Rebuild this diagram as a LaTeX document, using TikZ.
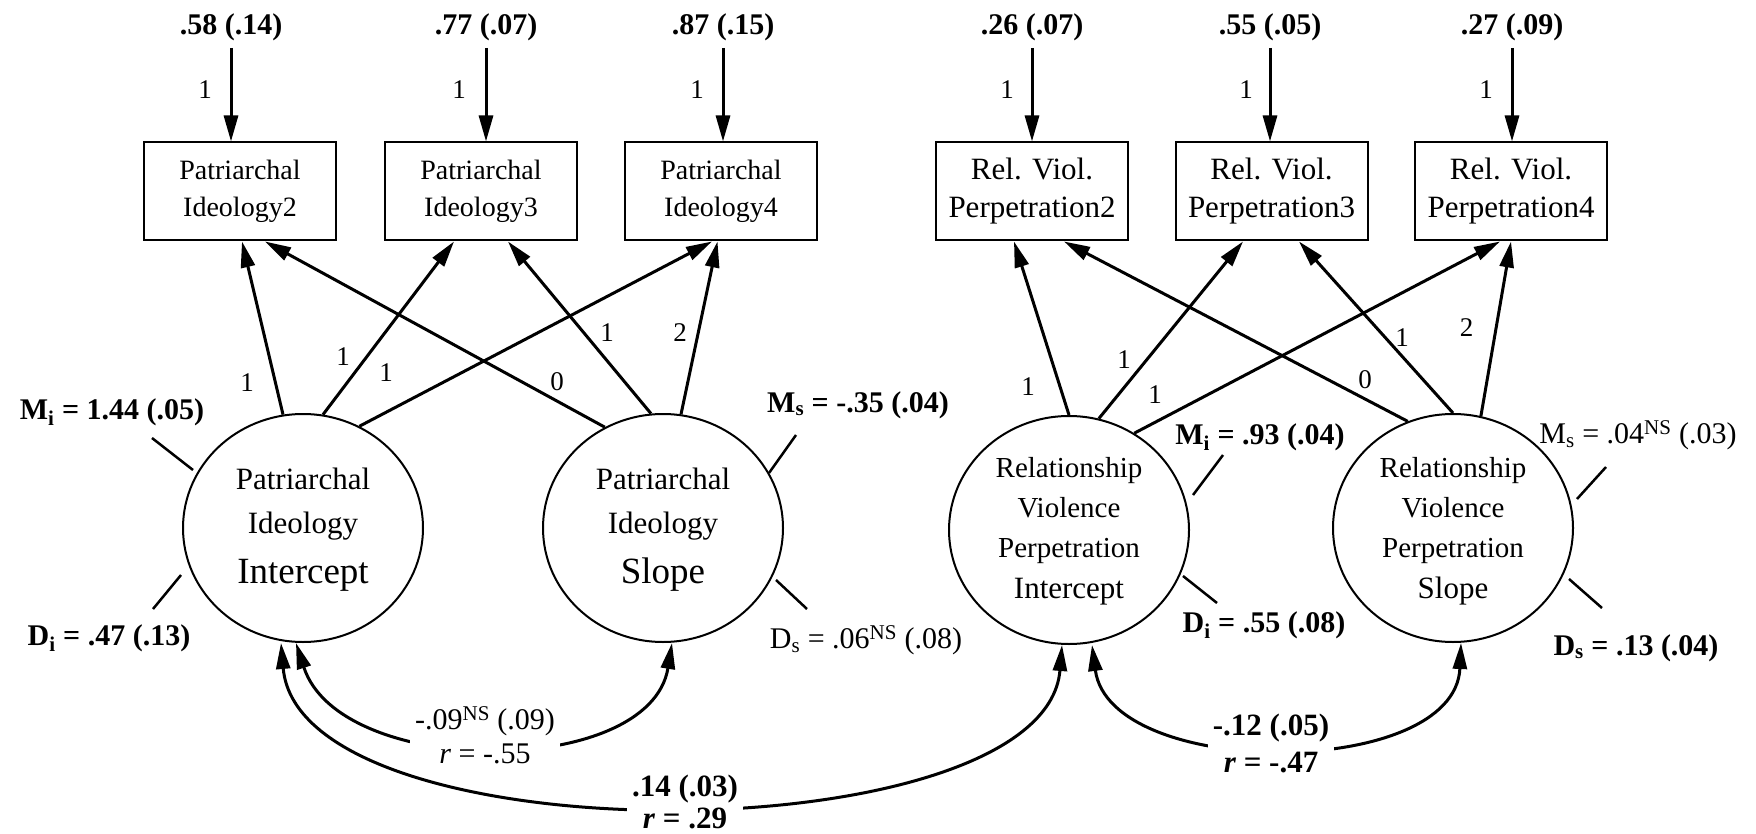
\documentclass[tikz,border=0pt]{standalone}
\usepackage{fontspec}
\setmainfont{Liberation Serif}
\usetikzlibrary{arrows.meta,shapes.geometric}
\newcommand{\fsz}[2]{\fontsize{#1}{#2}\selectfont}
\begin{document}
\begin{tikzpicture}[x=1pt,y=-1pt,
  >={Triangle[length=26pt,width=14pt]},
  every node/.style={inner sep=0pt},
  obs/.style={draw,line width=2pt,minimum width=192pt,minimum height=98pt,align=center,font=\fsz{28}{37}},
  obsr/.style={obs,font=\fsz{31}{38}},
  lat/.style={draw,ellipse,line width=2pt,minimum width=240pt,minimum height=228pt},
  latsmall/.style={anchor=base,font=\fsz{31}{31}},
  latbig/.style={anchor=base,font=\fsz{37}{37}},
  latmid/.style={anchor=base,font=\fsz{29}{29}},
  load/.style={line width=3pt,->},
  cov/.style={line width=3pt,<->},
  tick/.style={line width=2.5pt},
  est/.style={font=\bfseries\fsz{30}{30}},
  estr/.style={font=\fsz{30}{30}},
  wt/.style={font=\fsz{27}{27}},
  covlab/.style={fill=white,inner xsep=5pt,inner ysep=2pt,align=center},
]
\useasboundingbox (0,0) rectangle (1756,834);

% residual variances of the observed measures
\node[est,anchor=base] (t1) at (231,35) {.58 (.14)};
\node[est,anchor=base] (t2) at (486,35) {.77 (.07)};
\node[est,anchor=base] (t3) at (723,35) {.87 (.15)};
\node[est,anchor=base] (t4) at (1032,35) {.26 (.07)};
\node[est,anchor=base] (t5) at (1270,35) {.55 (.05)};
\node[est,anchor=base] (t6) at (1512,35) {.27 (.09)};

% observed measures
\node[obs]  (b1) at (240,191.5)  {Patriarchal\\Ideology2};
\node[obs]  (b2) at (481,191.5)  {Patriarchal\\Ideology3};
\node[obs]  (b3) at (721,191.5)  {Patriarchal\\Ideology4};
\node[obsr] (b4) at (1032,191.5) {Rel. Viol.\\Perpetration2};
\node[obsr] (b5) at (1271.5,191.5) {Rel. Viol.\\Perpetration3};
\node[obsr] (b6) at (1511,191.5) {Rel. Viol.\\Perpetration4};

% error paths
\foreach \i in {1,...,6}{
  \draw[load] ([yshift=-13pt]t\i.base) -- (t\i.base |- b\i.north);
}
\node[wt] (w1) at (205,90) {1};
\node[wt] (w2) at (459,90) {1};
\node[wt] (w3) at (697,90) {1};
\node[wt] (w4) at (1007,90) {1};
\node[wt] (w5) at (1246,90) {1};
\node[wt] (w6) at (1486,90) {1};

% latent growth factors
\node[lat] (c1) at (303,528) {};
\node[lat] (c2) at (663,528) {};
\node[lat] (c3) at (1069,530) {};
\node[lat] (c4) at (1453,528) {};

\node[latsmall] (c1a) at (303,489) {Patriarchal};
\node[latsmall] (c1b) at (303,533) {Ideology};
\node[latbig]   (c1c) at (303,583) {Intercept};
\node[latsmall] (c2a) at (663,489) {Patriarchal};
\node[latsmall] (c2b) at (663,533) {Ideology};
\node[latbig]   (c2c) at (663,583) {Slope};
\node[latmid]   (c3a) at (1069,477) {Relationship};
\node[latmid]   (c3b) at (1069,517) {Violence};
\node[latmid]   (c3c) at (1069,557) {Perpetration};
\node[latsmall] (c3d) at (1069,598) {Intercept};
\node[latmid]   (c4a) at (1453,477) {Relationship};
\node[latmid]   (c4b) at (1453,517) {Violence};
\node[latmid]   (c4c) at (1453,557) {Perpetration};
\node[latsmall] (c4d) at (1453,598) {Slope};

% factor loadings
\draw[load] (c1.100)  -- ([xshift=2pt]b1.south);
\draw[load] (c1.80)   -- ([xshift=-27pt]b2.south);
\draw[load] (c1.61.5) -- ([xshift=-9pt]b3.south);
\draw[load] (c2.120)  -- ([xshift=25pt]b1.south);
\draw[load] (c2.96.5) -- ([xshift=27pt]b2.south);
\draw[load] (c2.81.6) -- ([xshift=-3.5pt]b3.south);
\draw[load] (c3.90.5) -- ([xshift=-18pt]b4.south);
\draw[load] (c3.75.6) -- ([xshift=-28.5pt]b5.south);
\draw[load] (c3.56.6) -- ([xshift=-11pt]b6.south);
\draw[load] (c4.113.5) -- ([xshift=32pt]b4.south);
\draw[load] (c4.90)   -- ([xshift=27.5pt]b5.south);
\draw[load] (c4.76.8) -- (b6.south);

\node[wt] (l1)  at (247,383)  {1};
\node[wt] (l2)  at (343,357)  {1};
\node[wt] (l3)  at (386,373)  {1};
\node[wt] (l4)  at (557,382)  {0};
\node[wt] (l5)  at (607,333)  {1};
\node[wt] (l6)  at (680,333)  {2};
\node[wt] (l7)  at (1028,387) {1};
\node[wt] (l8)  at (1124,360) {1};
\node[wt] (l9)  at (1155,395) {1};
\node[wt] (l10) at (1365,380) {0};
\node[wt] (l11) at (1402,338) {1};
\node[wt] (l12) at (1466.6,328) {2};

% mean and disturbance ticks
\draw[tick] (152,438) -- (193,470);
\draw[tick] (181,575) -- (153,609);
\draw[tick] (796,435) -- (769,473);
\draw[tick] (776,580) -- (807,609);
\draw[tick] (1223,455) -- (1193,495);
\draw[tick] (1183,576) -- (1217,603);
\draw[tick] (1606,467) -- (1577,499);
\draw[tick] (1569,579) -- (1602,608);

\node[est]  (m1) at (112,412)  {M\textsubscript{i} = 1.44 (.05)};
\node[est]  (d1) at (109,638)  {D\textsubscript{i} = .47 (.13)};
\node[est]  (m2) at (858,405)  {M\textsubscript{s} = -.35 (.04)};
\node[estr] (d2) at (866,640)  {D\textsubscript{s} = .06\textsuperscript{NS} (.08)};
\node[est]  (m3) at (1260,437) {M\textsubscript{i} = .93 (.04)};
\node[est]  (d3) at (1264,625) {D\textsubscript{i} = .55 (.08)};
\node[estr] (m4) at (1638,435) {M\textsubscript{s} = .04\textsuperscript{NS} (.03)};
\node[est]  (d4) at (1636,648) {D\textsubscript{s} = .13 (.04)};

% covariances between growth factors
\draw[cov] ([xshift=-7pt]c1.south) .. controls (340,779) and (650,779) .. ([xshift=9pt]c2.south);
\draw[cov] ([xshift=-22pt]c1.south) .. controls (300,860) and (1045,855) .. ([xshift=-7pt]c3.south);
\draw[cov] ([xshift=23pt]c3.south) .. controls (1110,780) and (1455,780) .. ([xshift=8pt]c4.south);

\node[covlab,font=\fsz{30}{34}] (k1) at (485,735) {-.09\textsuperscript{NS} (.09)\\\textit{r} = -.55};
\node[covlab,font=\bfseries\fsz{31}{32}] (k2) at (685,802) {.14 (.03)\\\textit{r} = .29};
\node[covlab,font=\bfseries\fsz{31}{37}] (k3) at (1271,743) {-.12 (.05)\\\textit{r} = -.47};
\end{tikzpicture}
\end{document}
